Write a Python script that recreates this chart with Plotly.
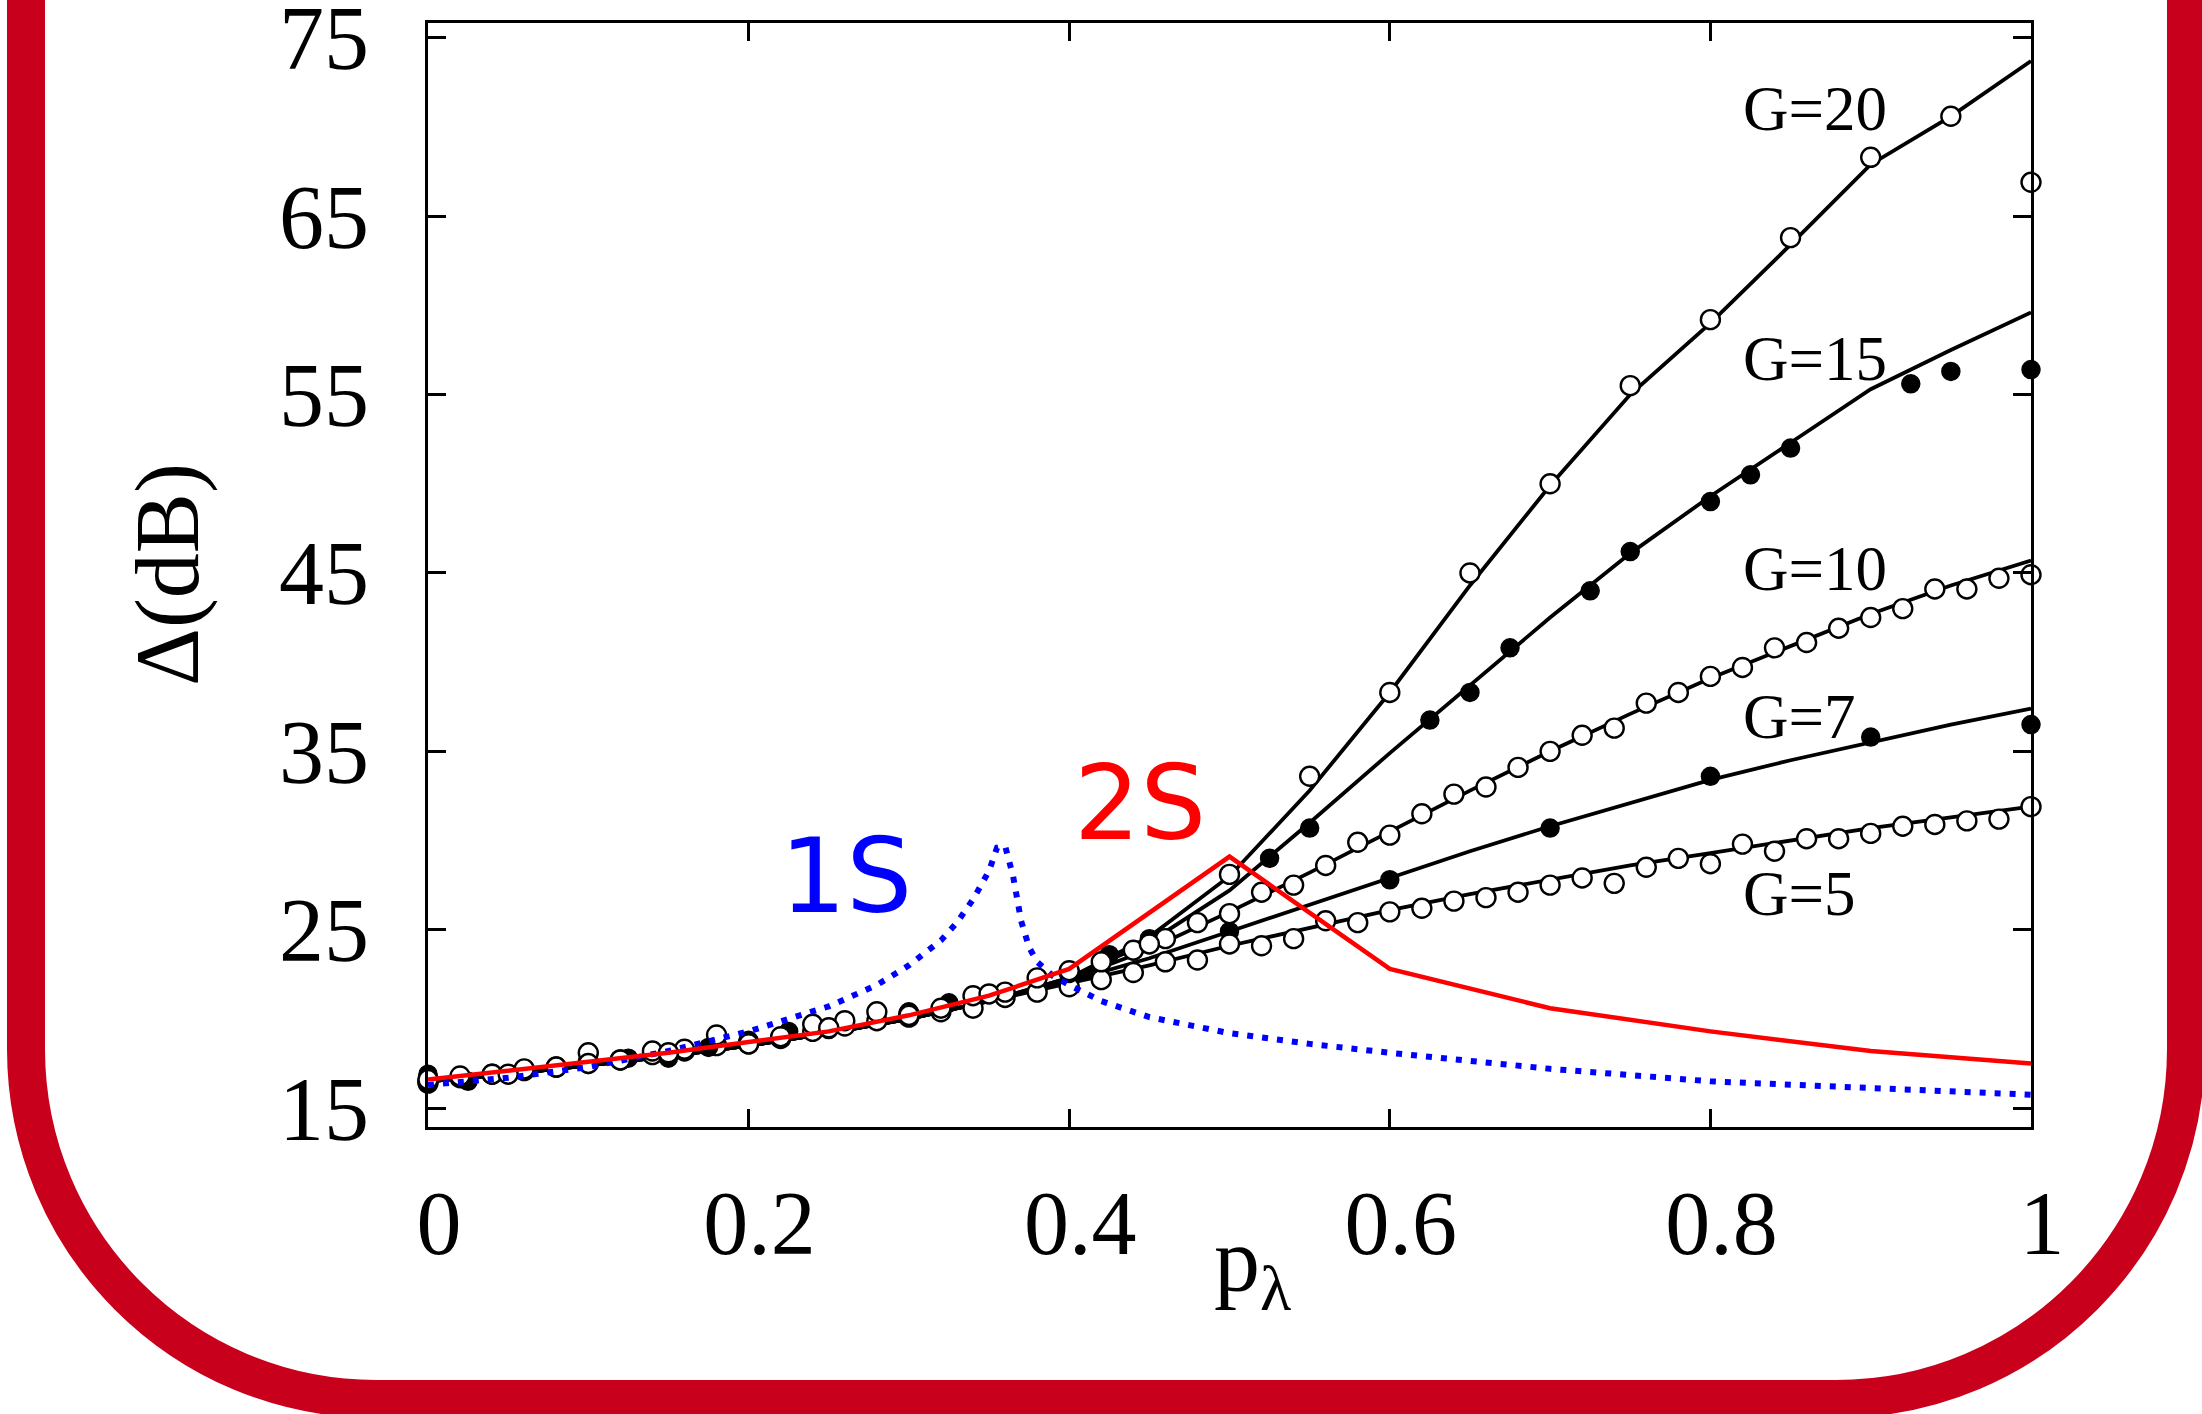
import plotly.graph_objects as go

# ---------------- data ----------------
p_coarse = [0.00, 0.05, 0.10, 0.15, 0.20, 0.25, 0.30, 0.35, 0.40, 0.45, 0.50,
            0.55, 0.60, 0.65, 0.70, 0.75, 0.80, 0.85, 0.90, 0.95, 1.00]
p_fine = [0.00, 0.02, 0.04, 0.06, 0.08, 0.10, 0.12, 0.14, 0.16, 0.18, 0.20,
          0.22, 0.24, 0.26, 0.28, 0.30, 0.32, 0.34, 0.36, 0.38, 0.40, 0.42,
          0.44, 0.46, 0.48, 0.50, 0.52, 0.54, 0.56, 0.58, 0.60, 0.62, 0.64,
          0.66, 0.68, 0.70, 0.72, 0.74, 0.76, 0.78, 0.80, 0.82, 0.84, 0.86,
          0.88, 0.90, 0.92, 0.94, 0.96, 0.98, 1.00]

# fitted curves (solid black)
line_g20 = [16.5, 16.9, 17.4, 17.9, 18.5, 19.2, 20.0, 21.0, 22.3, 24.6, 28.0,
            32.8, 38.3, 44.3, 49.9, 55.0, 59.0, 63.4, 67.9, 70.6, 73.7]
line_g15 = [16.5, 16.9, 17.4, 17.9, 18.5, 19.2, 20.0, 21.0, 22.3, 24.3, 27.2,
            31.0, 34.9, 38.7, 42.5, 46.1, 49.3, 52.3, 55.3, 57.5, 59.6]
line_g10 = [16.5, 16.9, 17.4, 17.9, 18.5, 19.2, 20.0, 21.0, 22.2, 23.9, 26.0,
            28.2, 30.5, 32.8, 35.0, 37.1, 39.1, 40.9, 42.7, 44.3, 45.7]
line_g7 = [16.5, 16.9, 17.4, 17.9, 18.5, 19.2, 20.0, 21.0, 22.1, 23.4, 24.9,
           26.4, 27.9, 29.4, 30.8, 32.1, 33.4, 34.5, 35.5, 36.5, 37.4]
line_g5 = [16.5, 16.9, 17.4, 17.9, 18.5, 19.2, 20.0, 21.0, 22.0, 23.0, 24.1,
           25.1, 26.1, 27.0, 27.8, 28.6, 29.3, 30.0, 30.7, 31.3, 31.9]

# simulation points
pts_g20 = [16.6, 16.9, 17.5, 18.1, 18.6, 19.5, 20.2, 21.4, 22.7, 24.2, 28.1,
           33.6, 38.3, 45.0, 50.0, 55.5, 59.2, 63.8, 68.3, 70.6, 66.9]
p_g15 = [0.0, 0.025, 0.05, 0.1, 0.125, 0.15, 0.175, 0.225, 0.25, 0.325, 0.35,
         0.425, 0.45, 0.525, 0.55, 0.625, 0.65, 0.675, 0.725, 0.75, 0.8,
         0.825, 0.85, 0.925, 0.95, 1.0]
pts_g15 = [16.9, 16.5, 16.9, 17.45, 17.8, 17.8, 18.4, 19.3, 19.4, 20.9, 21.4,
           23.6, 24.5, 29.0, 30.7, 36.75, 38.3, 40.8, 44.0, 46.2, 49.0,
           50.5, 52.0, 55.6, 56.3, 56.4]
pts_g10 = [16.5, 16.8, 16.9, 17.2, 17.3, 18.1, 17.7, 18.2, 18.3, 19.1, 18.7,
           19.0, 19.7, 19.9, 20.4, 20.3, 20.6, 21.3, 21.5, 22.3, 22.6,
           23.2, 23.85, 24.5, 25.4, 25.9, 27.1, 27.5, 28.6, 29.9, 30.3, 31.5,
           32.6, 33.0, 34.1, 35.0, 35.9, 36.3, 37.7, 38.3, 39.2, 39.7, 40.8,
           41.1, 41.9, 42.5, 43.0, 44.1, 44.1, 44.7, 44.9]
p_g7 = [0.0, 0.1, 0.2, 0.3, 0.4, 0.5, 0.6, 0.7, 0.8, 0.9, 1.0]
pts_g7 = [16.8, 17.5, 18.8, 20.4, 22.6, 24.9, 27.8, 30.7, 33.6, 35.8, 36.5]
pts_g5 = [16.4, 16.7, 16.9, 17.1, 17.3, 17.6, 17.7, 18.0, 18.2, 18.5, 18.6,
          18.9, 19.3, 19.6, 19.9, 20.1, 20.4, 20.6, 21.2, 21.5, 21.8,
          22.2, 22.6, 23.2, 23.3, 24.2, 24.1, 24.5, 25.5, 25.4, 26.0, 26.2,
          26.6, 26.8, 27.1, 27.5, 27.9, 27.6, 28.5, 29.0, 28.7, 29.8, 29.4,
          30.1, 30.1, 30.4, 30.8, 30.9, 31.1, 31.2, 31.9]

# one-stage (1S, dotted blue) and two-stage (2S, red) curves
p_1s = [0.00, 0.05, 0.10, 0.15, 0.20, 0.25, 0.28, 0.30, 0.32, 0.33, 0.34,
        0.35, 0.355, 0.36, 0.365, 0.37, 0.375, 0.38, 0.39, 0.40, 0.42, 0.45,
        0.50, 0.55, 0.60, 0.70, 0.80, 0.90, 1.00]
d_1s = [16.3, 16.7, 17.3, 18.2, 19.3, 20.7, 21.9, 23.0, 24.4, 25.4, 26.7,
        28.3, 29.6, 29.7, 28.0, 25.5, 24.0, 23.2, 22.4, 21.9, 21.0, 20.1,
        19.2, 18.6, 18.1, 17.2, 16.5, 16.1, 15.75]
p_2s = [0.00, 0.05, 0.10, 0.15, 0.20, 0.25, 0.30, 0.35, 0.40, 0.50, 0.60,
        0.70, 0.80, 0.90, 1.00]
d_2s = [16.6, 17.1, 17.6, 18.1, 18.7, 19.3, 20.2, 21.3, 22.8, 29.1, 22.8,
        20.6, 19.3, 18.2, 17.5]

x_ticks = [0, 0.2, 0.4, 0.6, 0.8, 1.0]
x_ticklabels = ["0", "0.2", "0.4", "0.6", "0.8", "1"]
y_ticks = [15, 25, 35, 45, 55, 65, 75]
y_ticklabels = ["15", "25", "35", "45", "55", "65", "75"]

g_labels = ["G=20", "G=15", "G=10", "G=7", "G=5"]
g_label_x = [0.819, 0.819, 0.819, 0.819, 0.819]
g_label_y = [71.0, 57.0, 45.2, 36.9, 27.0]

# ---------------- figure ----------------
W, H = 2202, 1414
ML, MR, MT, MB = 428, 171, 23, 287
PW, PH = W - ML - MR, H - MT - MB

SERIF = "Liberation Serif, Times New Roman, serif"
SANS = "DejaVu Sans, sans-serif"

fig = go.Figure()

lines = [line_g20, line_g15, line_g10, line_g7, line_g5]
for ys in lines:
    fig.add_trace(go.Scatter(x=p_coarse, y=ys, mode="lines",
                             line=dict(color="black", width=3.8),
                             showlegend=False, cliponaxis=False))

open_m = dict(symbol="circle", size=19, color="white",
              line=dict(color="black", width=2.4))
fill_m = dict(symbol="circle", size=18, color="black",
              line=dict(color="black", width=1.5))

point_sets = [
    (p_g7, pts_g7, fill_m),
    (p_fine, pts_g5, open_m),
    (p_g15, pts_g15, fill_m),
    (p_fine, pts_g10, open_m),
    (p_coarse, pts_g20, open_m),
]
for xs, ys, m in point_sets:
    fig.add_trace(go.Scatter(x=xs, y=ys, mode="markers", marker=m,
                             showlegend=False, cliponaxis=False))

fig.add_trace(go.Scatter(x=p_1s, y=d_1s, mode="lines",
                         line=dict(color="#0000ff", width=6, dash="6px,9px"),
                         showlegend=False, cliponaxis=False))
fig.add_trace(go.Scatter(x=p_2s, y=d_2s, mode="lines",
                         line=dict(color="#ff0000", width=4.5),
                         showlegend=False, cliponaxis=False))

annotations = []
for t, gx, gy in zip(g_labels, g_label_x, g_label_y):
    annotations.append(dict(x=gx, y=gy, xref="x", yref="y", text=t,
                            showarrow=False, xanchor="left", yanchor="middle",
                            font=dict(family=SERIF, size=63, color="black")))
annotations.append(dict(x=0.261, y=28.0, xref="x", yref="y", text="1S",
                        showarrow=False, xanchor="center", yanchor="middle",
                        font=dict(family=SANS, size=104, color="#0000ff")))
annotations.append(dict(x=0.444, y=32.1, xref="x", yref="y", text="2S",
                        showarrow=False, xanchor="center", yanchor="middle",
                        font=dict(family=SANS, size=104, color="#ff0000")))


def px_to_paper(px, py):
    return (px - ML) / PW, (MT + PH - py) / PH


# axis titles placed as annotations (pixel positions converted to paper)
tx, ty = px_to_paper(1252, 1266)
annotations.append(dict(x=tx, y=ty, xref="paper", yref="paper",
                        text="p<sub>λ</sub>", showarrow=False,
                        xanchor="center", yanchor="middle",
                        font=dict(family=SERIF, size=92, color="black")))
tx, ty = px_to_paper(168, 575)
annotations.append(dict(x=tx, y=ty, xref="paper", yref="paper",
                        text="Δ(dB)", showarrow=False, textangle=-90,
                        xanchor="center", yanchor="middle",
                        font=dict(family=SERIF, size=90, color="black")))

# decorative red rounded frame (stroke along the band's centre line)
k = 0.5523
xl, xr, yb, R, ytop = 26, 2186, 1399, 350, -60
pts = [
    ("M", [(xl, ytop)]),
    ("L", [(xl, yb - R)]),
    ("C", [(xl, yb - R + k * R), (xl + R - k * R, yb), (xl + R, yb)]),
    ("L", [(xr - R, yb)]),
    ("C", [(xr - R + k * R, yb), (xr, yb - R + k * R), (xr, yb - R)]),
    ("L", [(xr, ytop)]),
]
path = ""
for cmd, plist in pts:
    coords = []
    for (a, b) in plist:
        u, v = px_to_paper(a, b)
        coords.append(f"{u:.5f},{v:.5f}")
    path += cmd + " " + " ".join(coords) + " "

shapes = [dict(type="path", xref="paper", yref="paper", path=path.strip(),
               line=dict(color="#c8001c", width=38), fillcolor="rgba(0,0,0,0)",
               layer="above")]

axis_common = dict(showgrid=False, zeroline=False, showline=True,
                   linecolor="black", linewidth=3, mirror="ticks",
                   ticks="inside", ticklen=18, tickwidth=2.5,
                   tickcolor="black", ticklabeloverflow="allow",
                   tickfont=dict(family=SERIF, size=90, color="black"))

fig.update_layout(
    width=W, height=H,
    margin=dict(l=ML, r=MR, t=MT, b=MB, pad=0, autoexpand=False),
    paper_bgcolor="white", plot_bgcolor="white",
    xaxis=dict(range=[0, 1], tickvals=x_ticks, ticktext=x_ticklabels,
               ticklabelstandoff=16, ticklabelshift=11, automargin=False,
               **axis_common),
    yaxis=dict(range=[13.94, 75.83], tickvals=y_ticks, ticktext=y_ticklabels,
               ticklabelstandoff=38, automargin=False, **axis_common),
    annotations=annotations,
    shapes=shapes,
    showlegend=False,
)

fig.write_html(
    "out.html",
    config={"displayModeBar": False},
    post_script="document.body.style.margin='0';"
                "document.body.style.overflow='hidden';",
)
